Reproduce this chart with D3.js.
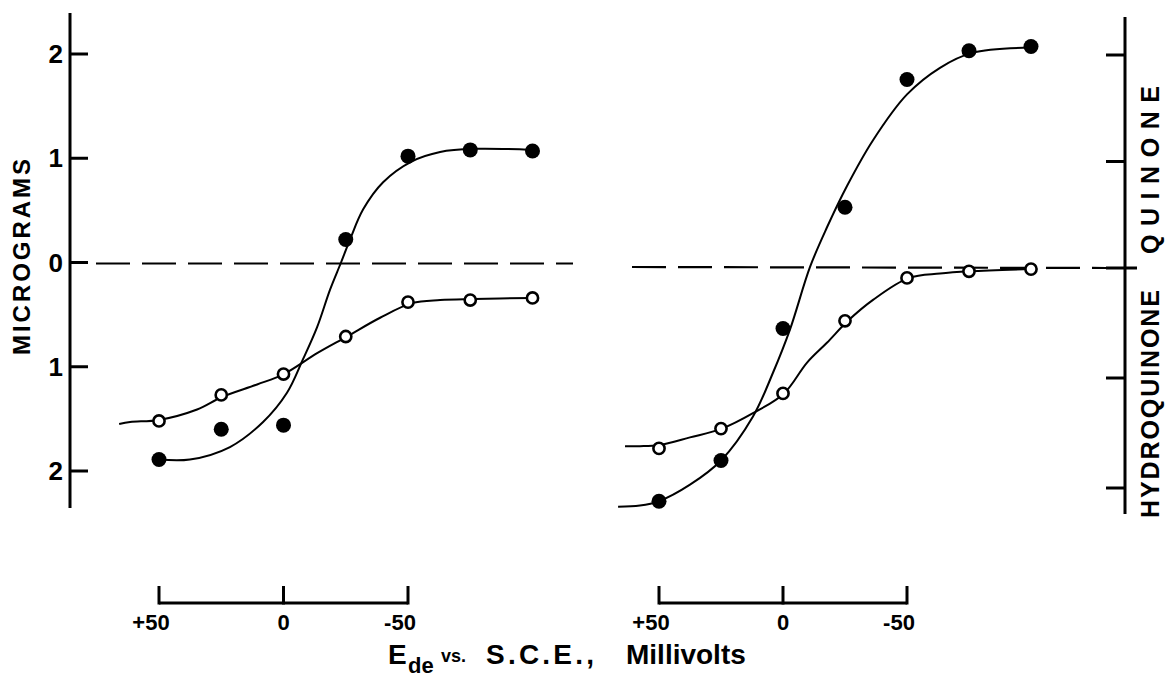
<!DOCTYPE html>
<html>
<head>
<meta charset="utf-8">
<script src="https://cdn.jsdelivr.net/npm/d3@7"></script>
<style>
  body { margin: 0; background: #fff; }
  text { font-family: "Liberation Sans", Arial, sans-serif; font-weight: bold; fill: #000; }
</style>
</head>
<body>
<script>
(function () {

// potential in mV (E_de vs S.C.E.), same for both panels
var xVals = [50, 25, 0, -25, -50, -75, -100];

// measured points, micrograms (minus = hydroquinone side)
var leftFilled  = [-1.89, -1.60, -1.56, 0.22, 1.02, 1.08, 1.07];
var leftOpen    = [-1.52, -1.27, -1.07, -0.71, -0.38, -0.36, -0.34];
var rightFilled = [-2.12, -1.75, -0.55, 0.57, 1.77, 2.04, 2.08];
var rightOpen   = [-1.64, -1.46, -1.14, -0.48, -0.09, -0.03, -0.01];

// hand drawn smooth curves
var leftFilledFitX = [50, 37.6, 21.5, 8.2, -1.4, -7.8, -13.5, -18.7, -23.1, -26.7, -32, -40, -51.6, -62.9, -76.5, -100];
var leftFilledFitY = [-1.89, -1.89, -1.77, -1.53, -1.25, -0.93, -0.62, -0.26, 0, 0.22, 0.51, 0.77, 0.97, 1.06, 1.09, 1.08];
var leftOpenFitX = [66, 61.6, 50, 34.7, 24.7, 10.6, -0.2, -13.5, -25.5, -38.8, -51.6, -62.9, -76.5, -100];
var leftOpenFitY = [-1.55, -1.53, -1.51, -1.41, -1.29, -1.17, -1.07, -0.87, -0.71, -0.53, -0.39, -0.36, -0.35, -0.34];
var rightFilledFitX = [66.5, 57.7, 50, 37.5, 25, 12.1, 4.0, -2.8, -10.9, -17.7, -25.8, -36.3, -50, -63.3, -76.2, -100];
var rightFilledFitY = [-2.17, -2.16, -2.12, -1.97, -1.75, -1.35, -0.95, -0.56, 0.01, 0.38, 0.77, 1.20, 1.63, 1.88, 2.02, 2.07];
var rightOpenFitX = [63.7, 57.7, 50, 37.5, 24.6, 12.1, -0.4, -9.7, -17.7, -26.2, -36.3, -50.8, -63.3, -75.4, -100];
var rightOpenFitY = [-1.62, -1.62, -1.61, -1.54, -1.46, -1.32, -1.14, -0.86, -0.68, -0.48, -0.29, -0.09, -0.05, -0.03, -0.01];

var yTicks = [2, 1, 0, -1, -2];
var yTickLabels = ["2", "1", "0", "1", "2"];
var xTicks = [50, 0, -50];

var svg = d3.select("body").append("svg")
  .attr("width", 1166)
  .attr("height", 681)
  .style("background", "#fff");

// scales
var xLeft = d3.scaleLinear().domain([50, -50]).range([159, 408]);
var xRight = d3.scaleLinear().domain([50, -50]).range([659, 907]);
var yLeft = d3.scaleLinear().domain([-2, 2]).range([471, 54]);
// right axis ticks are not quite evenly spaced on the drawing
var yRight = d3.scaleLinear().domain([-2, 0, 2]).range([488, 268, 55]);

function zip(xs, ys) {
  return xs.map(function (x, i) { return [x, ys[i]]; });
}

// ---- left axis
svg.append("line")
  .attr("x1", 70).attr("x2", 70)
  .attr("y1", 13).attr("y2", 508)
  .attr("stroke", "#000").attr("stroke-width", 3);

svg.selectAll(".ltick").data(yTicks).enter().append("line")
  .attr("class", "ltick")
  .attr("x1", 70).attr("x2", 88)
  .attr("y1", function (d) { return yLeft(d); })
  .attr("y2", function (d) { return yLeft(d); })
  .attr("stroke", "#000").attr("stroke-width", 3);

svg.selectAll(".llab").data(yTicks).enter().append("text")
  .attr("class", "llab")
  .attr("x", 63)
  .attr("y", function (d) { return yLeft(d) + 9; })
  .attr("text-anchor", "end")
  .style("font-size", "26px")
  .text(function (d, i) { return yTickLabels[i]; });

svg.append("text")
  .attr("transform", "translate(30,257) rotate(-90)")
  .attr("text-anchor", "middle")
  .attr("textLength", 196)
  .attr("lengthAdjust", "spacing")
  .style("font-size", "24px")
  .text("MICROGRAMS");

// ---- right axis
svg.append("line")
  .attr("x1", 1125).attr("x2", 1125)
  .attr("y1", 17).attr("y2", 514)
  .attr("stroke", "#000").attr("stroke-width", 3);

svg.selectAll(".rtick").data(yTicks).enter().append("line")
  .attr("class", "rtick")
  .attr("x1", 1106)
  .attr("x2", function (d) { return d === 0 ? 1137 : 1125; })
  .attr("y1", function (d) { return yRight(d); })
  .attr("y2", function (d) { return yRight(d); })
  .attr("stroke", "#000").attr("stroke-width", 3);

svg.append("text")
  .attr("transform", "translate(1159,254) rotate(-90)")
  .attr("text-anchor", "start")
  .attr("textLength", 168)
  .attr("lengthAdjust", "spacing")
  .style("font-size", "25px")
  .text("QUINONE");

svg.append("text")
  .attr("transform", "translate(1159,518) rotate(-90)")
  .attr("text-anchor", "start")
  .attr("textLength", 228)
  .attr("lengthAdjust", "spacing")
  .style("font-size", "25px")
  .text("HYDROQUINONE");

// ---- zero lines (dashed)
svg.append("line")
  .attr("x1", 96).attr("x2", 573)
  .attr("y1", yLeft(0) + 1).attr("y2", yLeft(0) + 1)
  .attr("stroke", "#000").attr("stroke-width", 2.2)
  .attr("stroke-dasharray", "34 12");

svg.append("line")
  .attr("x1", 632).attr("x2", 1106)
  .attr("y1", yRight(0) - 1).attr("y2", yRight(0))
  .attr("stroke", "#000").attr("stroke-width", 2.2)
  .attr("stroke-dasharray", "34 12");

// ---- bottom scale bars
function xBar(x) {
  var g = svg.append("g");
  g.append("line")
    .attr("x1", x(50)).attr("x2", x(-50))
    .attr("y1", 603).attr("y2", 603)
    .attr("stroke", "#000").attr("stroke-width", 3);
  g.selectAll("line.t").data(xTicks).enter().append("line")
    .attr("class", "t")
    .attr("x1", function (d) { return x(d); })
    .attr("x2", function (d) { return x(d); })
    .attr("y1", 586).attr("y2", 604.5)
    .attr("stroke", "#000").attr("stroke-width", 3);
  g.selectAll("text").data(xTicks).enter().append("text")
    .attr("x", function (d) { return x(d); })
    .attr("dx", function (d) { return d === 0 ? 0 : -8; })
    .attr("y", 630)
    .attr("text-anchor", "middle")
    .style("font-size", "22px")
    .text(function (d) { return d > 0 ? "+" + d : d < 0 ? "-" + (-d) : "0"; });
}
xBar(xLeft);
xBar(xRight);

// axis title
var title = svg.append("text").attr("y", 664).style("font-size", "28px");
title.append("tspan").attr("x", 388).text("E");
title.append("tspan").attr("x", 408).attr("dy", 9).style("font-size", "22px").text("de");
title.append("tspan").attr("x", 441).attr("dy", -11).style("font-size", "18px").text("vs.");
title.append("tspan").attr("x", 486).attr("dy", 2).attr("textLength", 108).attr("lengthAdjust", "spacing").text("S.C.E.,");
title.append("tspan").attr("x", 626).text("Millivolts");

// ---- curves and points
function panel(x, y, filled, open, fFitX, fFitY, oFitX, oFitY) {
  var line = d3.line()
    .x(function (d) { return x(d[0]); })
    .y(function (d) { return y(d[1]); })
    .curve(d3.curveCatmullRom.alpha(0.5));

  svg.append("path").datum(zip(fFitX, fFitY))
    .attr("d", line)
    .attr("fill", "none").attr("stroke", "#000").attr("stroke-width", 2);
  svg.append("path").datum(zip(oFitX, oFitY))
    .attr("d", line)
    .attr("fill", "none").attr("stroke", "#000").attr("stroke-width", 2);

  svg.append("g").selectAll("circle").data(zip(xVals, filled)).enter().append("circle")
    .attr("cx", function (d) { return x(d[0]); })
    .attr("cy", function (d) { return y(d[1]); })
    .attr("r", 7.5)
    .attr("fill", "#000");

  svg.append("g").selectAll("circle").data(zip(xVals, open)).enter().append("circle")
    .attr("cx", function (d) { return x(d[0]); })
    .attr("cy", function (d) { return y(d[1]); })
    .attr("r", 5.6)
    .attr("fill", "#fff")
    .attr("stroke", "#000").attr("stroke-width", 2.6);
}

panel(xLeft, yLeft, leftFilled, leftOpen, leftFilledFitX, leftFilledFitY, leftOpenFitX, leftOpenFitY);
panel(xRight, yRight, rightFilled, rightOpen, rightFilledFitX, rightFilledFitY, rightOpenFitX, rightOpenFitY);

})();
</script>
</body>
</html>
